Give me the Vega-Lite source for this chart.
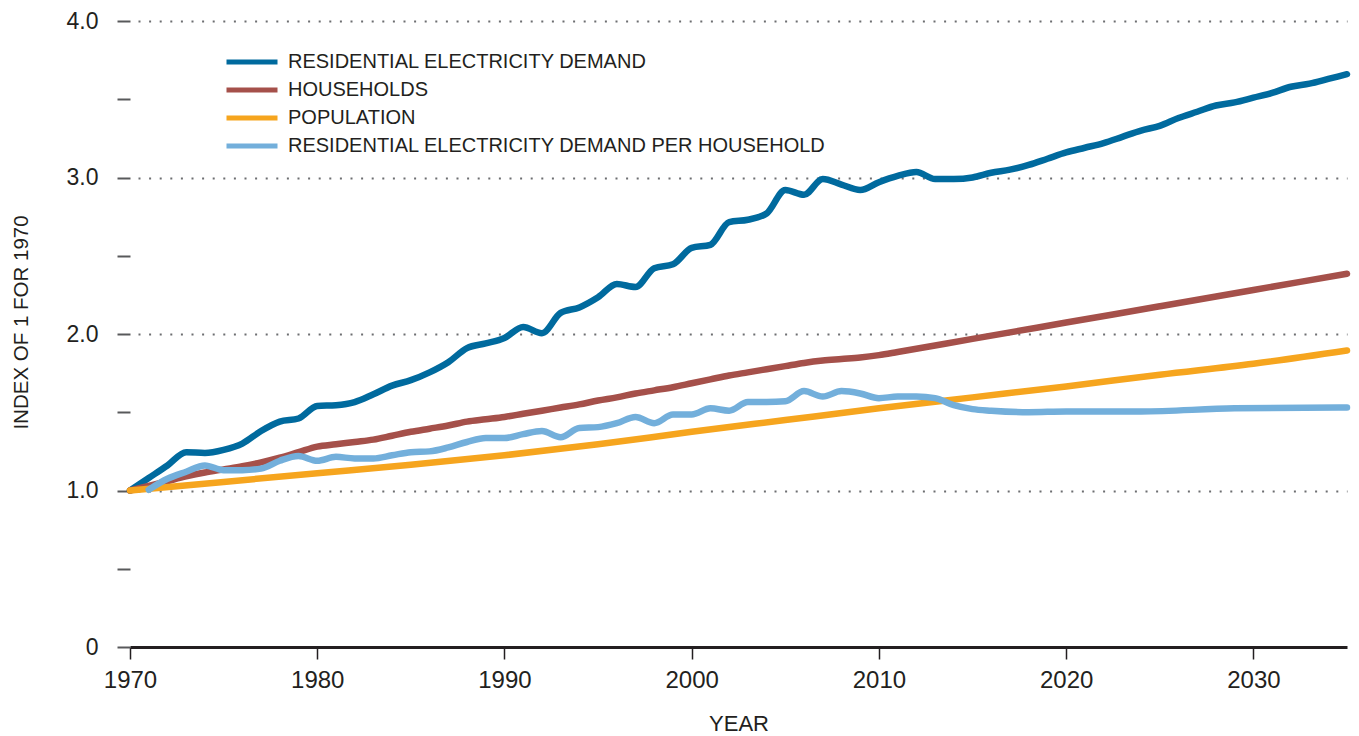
{
  "$schema": "https://vega.github.io/schema/vega-lite/v6.json",
  "width": 1217,
  "height": 626,
  "autosize": {"type": "none"},
  "padding": {"left": 130, "top": 21, "right": 12, "bottom": 89},
  "background": "white",
  "config": {"view": {"stroke": null}, "font": "Liberation Sans"},
  "datasets": {
    "d": [
      {"series": "RESIDENTIAL ELECTRICITY DEMAND", "year": 1970, "value": 1.0},
      {"series": "RESIDENTIAL ELECTRICITY DEMAND", "year": 1971, "value": 1.08},
      {"series": "RESIDENTIAL ELECTRICITY DEMAND", "year": 1972, "value": 1.16},
      {"series": "RESIDENTIAL ELECTRICITY DEMAND", "year": 1973, "value": 1.245},
      {"series": "RESIDENTIAL ELECTRICITY DEMAND", "year": 1974, "value": 1.24},
      {"series": "RESIDENTIAL ELECTRICITY DEMAND", "year": 1975, "value": 1.26},
      {"series": "RESIDENTIAL ELECTRICITY DEMAND", "year": 1976, "value": 1.3},
      {"series": "RESIDENTIAL ELECTRICITY DEMAND", "year": 1977, "value": 1.38},
      {"series": "RESIDENTIAL ELECTRICITY DEMAND", "year": 1978, "value": 1.44},
      {"series": "RESIDENTIAL ELECTRICITY DEMAND", "year": 1979, "value": 1.46},
      {"series": "RESIDENTIAL ELECTRICITY DEMAND", "year": 1980, "value": 1.54},
      {"series": "RESIDENTIAL ELECTRICITY DEMAND", "year": 1981, "value": 1.545},
      {"series": "RESIDENTIAL ELECTRICITY DEMAND", "year": 1982, "value": 1.565},
      {"series": "RESIDENTIAL ELECTRICITY DEMAND", "year": 1983, "value": 1.615},
      {"series": "RESIDENTIAL ELECTRICITY DEMAND", "year": 1984, "value": 1.67},
      {"series": "RESIDENTIAL ELECTRICITY DEMAND", "year": 1985, "value": 1.705},
      {"series": "RESIDENTIAL ELECTRICITY DEMAND", "year": 1986, "value": 1.755},
      {"series": "RESIDENTIAL ELECTRICITY DEMAND", "year": 1987, "value": 1.82},
      {"series": "RESIDENTIAL ELECTRICITY DEMAND", "year": 1988, "value": 1.91},
      {"series": "RESIDENTIAL ELECTRICITY DEMAND", "year": 1989, "value": 1.94},
      {"series": "RESIDENTIAL ELECTRICITY DEMAND", "year": 1990, "value": 1.975},
      {"series": "RESIDENTIAL ELECTRICITY DEMAND", "year": 1991, "value": 2.045},
      {"series": "RESIDENTIAL ELECTRICITY DEMAND", "year": 1992, "value": 2.005},
      {"series": "RESIDENTIAL ELECTRICITY DEMAND", "year": 1993, "value": 2.135},
      {"series": "RESIDENTIAL ELECTRICITY DEMAND", "year": 1994, "value": 2.17},
      {"series": "RESIDENTIAL ELECTRICITY DEMAND", "year": 1995, "value": 2.235},
      {"series": "RESIDENTIAL ELECTRICITY DEMAND", "year": 1996, "value": 2.32},
      {"series": "RESIDENTIAL ELECTRICITY DEMAND", "year": 1997, "value": 2.3},
      {"series": "RESIDENTIAL ELECTRICITY DEMAND", "year": 1998, "value": 2.42},
      {"series": "RESIDENTIAL ELECTRICITY DEMAND", "year": 1999, "value": 2.445},
      {"series": "RESIDENTIAL ELECTRICITY DEMAND", "year": 2000, "value": 2.55},
      {"series": "RESIDENTIAL ELECTRICITY DEMAND", "year": 2001, "value": 2.57},
      {"series": "RESIDENTIAL ELECTRICITY DEMAND", "year": 2002, "value": 2.715},
      {"series": "RESIDENTIAL ELECTRICITY DEMAND", "year": 2003, "value": 2.73},
      {"series": "RESIDENTIAL ELECTRICITY DEMAND", "year": 2004, "value": 2.77},
      {"series": "RESIDENTIAL ELECTRICITY DEMAND", "year": 2005, "value": 2.92},
      {"series": "RESIDENTIAL ELECTRICITY DEMAND", "year": 2006, "value": 2.89},
      {"series": "RESIDENTIAL ELECTRICITY DEMAND", "year": 2007, "value": 2.99},
      {"series": "RESIDENTIAL ELECTRICITY DEMAND", "year": 2008, "value": 2.955},
      {"series": "RESIDENTIAL ELECTRICITY DEMAND", "year": 2009, "value": 2.92},
      {"series": "RESIDENTIAL ELECTRICITY DEMAND", "year": 2010, "value": 2.97},
      {"series": "RESIDENTIAL ELECTRICITY DEMAND", "year": 2011, "value": 3.01},
      {"series": "RESIDENTIAL ELECTRICITY DEMAND", "year": 2012, "value": 3.035},
      {"series": "RESIDENTIAL ELECTRICITY DEMAND", "year": 2013, "value": 2.99},
      {"series": "RESIDENTIAL ELECTRICITY DEMAND", "year": 2014, "value": 2.99},
      {"series": "RESIDENTIAL ELECTRICITY DEMAND", "year": 2015, "value": 3.0},
      {"series": "RESIDENTIAL ELECTRICITY DEMAND", "year": 2016, "value": 3.03},
      {"series": "RESIDENTIAL ELECTRICITY DEMAND", "year": 2017, "value": 3.05},
      {"series": "RESIDENTIAL ELECTRICITY DEMAND", "year": 2018, "value": 3.08},
      {"series": "RESIDENTIAL ELECTRICITY DEMAND", "year": 2019, "value": 3.12},
      {"series": "RESIDENTIAL ELECTRICITY DEMAND", "year": 2020, "value": 3.16},
      {"series": "RESIDENTIAL ELECTRICITY DEMAND", "year": 2021, "value": 3.19},
      {"series": "RESIDENTIAL ELECTRICITY DEMAND", "year": 2022, "value": 3.22},
      {"series": "RESIDENTIAL ELECTRICITY DEMAND", "year": 2023, "value": 3.26},
      {"series": "RESIDENTIAL ELECTRICITY DEMAND", "year": 2024, "value": 3.3},
      {"series": "RESIDENTIAL ELECTRICITY DEMAND", "year": 2025, "value": 3.33},
      {"series": "RESIDENTIAL ELECTRICITY DEMAND", "year": 2026, "value": 3.38},
      {"series": "RESIDENTIAL ELECTRICITY DEMAND", "year": 2027, "value": 3.42},
      {"series": "RESIDENTIAL ELECTRICITY DEMAND", "year": 2028, "value": 3.46},
      {"series": "RESIDENTIAL ELECTRICITY DEMAND", "year": 2029, "value": 3.48},
      {"series": "RESIDENTIAL ELECTRICITY DEMAND", "year": 2030, "value": 3.51},
      {"series": "RESIDENTIAL ELECTRICITY DEMAND", "year": 2031, "value": 3.54},
      {"series": "RESIDENTIAL ELECTRICITY DEMAND", "year": 2032, "value": 3.58},
      {"series": "RESIDENTIAL ELECTRICITY DEMAND", "year": 2033, "value": 3.6},
      {"series": "RESIDENTIAL ELECTRICITY DEMAND", "year": 2034, "value": 3.63},
      {"series": "RESIDENTIAL ELECTRICITY DEMAND", "year": 2035, "value": 3.66},

      {"series": "HOUSEHOLDS", "year": 1970, "value": 1.0},
      {"series": "HOUSEHOLDS", "year": 1971, "value": 1.03},
      {"series": "HOUSEHOLDS", "year": 1972, "value": 1.06},
      {"series": "HOUSEHOLDS", "year": 1973, "value": 1.09},
      {"series": "HOUSEHOLDS", "year": 1974, "value": 1.115},
      {"series": "HOUSEHOLDS", "year": 1975, "value": 1.135},
      {"series": "HOUSEHOLDS", "year": 1976, "value": 1.155},
      {"series": "HOUSEHOLDS", "year": 1977, "value": 1.18},
      {"series": "HOUSEHOLDS", "year": 1978, "value": 1.21},
      {"series": "HOUSEHOLDS", "year": 1979, "value": 1.245},
      {"series": "HOUSEHOLDS", "year": 1980, "value": 1.28},
      {"series": "HOUSEHOLDS", "year": 1981, "value": 1.295},
      {"series": "HOUSEHOLDS", "year": 1982, "value": 1.31},
      {"series": "HOUSEHOLDS", "year": 1983, "value": 1.325},
      {"series": "HOUSEHOLDS", "year": 1984, "value": 1.35},
      {"series": "HOUSEHOLDS", "year": 1985, "value": 1.375},
      {"series": "HOUSEHOLDS", "year": 1986, "value": 1.395},
      {"series": "HOUSEHOLDS", "year": 1987, "value": 1.415},
      {"series": "HOUSEHOLDS", "year": 1988, "value": 1.44},
      {"series": "HOUSEHOLDS", "year": 1989, "value": 1.455},
      {"series": "HOUSEHOLDS", "year": 1990, "value": 1.47},
      {"series": "HOUSEHOLDS", "year": 1991, "value": 1.49},
      {"series": "HOUSEHOLDS", "year": 1992, "value": 1.51},
      {"series": "HOUSEHOLDS", "year": 1993, "value": 1.53},
      {"series": "HOUSEHOLDS", "year": 1994, "value": 1.55},
      {"series": "HOUSEHOLDS", "year": 1995, "value": 1.575},
      {"series": "HOUSEHOLDS", "year": 1996, "value": 1.595},
      {"series": "HOUSEHOLDS", "year": 1997, "value": 1.62},
      {"series": "HOUSEHOLDS", "year": 1998, "value": 1.64},
      {"series": "HOUSEHOLDS", "year": 1999, "value": 1.66},
      {"series": "HOUSEHOLDS", "year": 2000, "value": 1.685},
      {"series": "HOUSEHOLDS", "year": 2001, "value": 1.71},
      {"series": "HOUSEHOLDS", "year": 2002, "value": 1.735},
      {"series": "HOUSEHOLDS", "year": 2003, "value": 1.755},
      {"series": "HOUSEHOLDS", "year": 2004, "value": 1.775},
      {"series": "HOUSEHOLDS", "year": 2005, "value": 1.795},
      {"series": "HOUSEHOLDS", "year": 2006, "value": 1.815},
      {"series": "HOUSEHOLDS", "year": 2007, "value": 1.83},
      {"series": "HOUSEHOLDS", "year": 2008, "value": 1.84},
      {"series": "HOUSEHOLDS", "year": 2009, "value": 1.85},
      {"series": "HOUSEHOLDS", "year": 2010, "value": 1.865},
      {"series": "HOUSEHOLDS", "year": 2011, "value": 1.885},
      {"series": "HOUSEHOLDS", "year": 2015, "value": 1.969},
      {"series": "HOUSEHOLDS", "year": 2020, "value": 2.073},
      {"series": "HOUSEHOLDS", "year": 2025, "value": 2.177},
      {"series": "HOUSEHOLDS", "year": 2030, "value": 2.281},
      {"series": "HOUSEHOLDS", "year": 2035, "value": 2.385},

      {"series": "POPULATION", "year": 1970, "value": 1.0},
      {"series": "POPULATION", "year": 1975, "value": 1.055},
      {"series": "POPULATION", "year": 1980, "value": 1.11},
      {"series": "POPULATION", "year": 1985, "value": 1.165},
      {"series": "POPULATION", "year": 1990, "value": 1.225},
      {"series": "POPULATION", "year": 1995, "value": 1.295},
      {"series": "POPULATION", "year": 2000, "value": 1.375},
      {"series": "POPULATION", "year": 2005, "value": 1.45},
      {"series": "POPULATION", "year": 2010, "value": 1.525},
      {"series": "POPULATION", "year": 2015, "value": 1.595},
      {"series": "POPULATION", "year": 2020, "value": 1.665},
      {"series": "POPULATION", "year": 2025, "value": 1.74},
      {"series": "POPULATION", "year": 2030, "value": 1.81},
      {"series": "POPULATION", "year": 2035, "value": 1.895},

      {"series": "RESIDENTIAL ELECTRICITY DEMAND PER HOUSEHOLD", "year": 1971, "value": 1.005},
      {"series": "RESIDENTIAL ELECTRICITY DEMAND PER HOUSEHOLD", "year": 1972, "value": 1.075},
      {"series": "RESIDENTIAL ELECTRICITY DEMAND PER HOUSEHOLD", "year": 1973, "value": 1.12},
      {"series": "RESIDENTIAL ELECTRICITY DEMAND PER HOUSEHOLD", "year": 1974, "value": 1.16},
      {"series": "RESIDENTIAL ELECTRICITY DEMAND PER HOUSEHOLD", "year": 1975, "value": 1.13},
      {"series": "RESIDENTIAL ELECTRICITY DEMAND PER HOUSEHOLD", "year": 1976, "value": 1.13},
      {"series": "RESIDENTIAL ELECTRICITY DEMAND PER HOUSEHOLD", "year": 1977, "value": 1.14},
      {"series": "RESIDENTIAL ELECTRICITY DEMAND PER HOUSEHOLD", "year": 1978, "value": 1.19},
      {"series": "RESIDENTIAL ELECTRICITY DEMAND PER HOUSEHOLD", "year": 1979, "value": 1.22},
      {"series": "RESIDENTIAL ELECTRICITY DEMAND PER HOUSEHOLD", "year": 1980, "value": 1.19},
      {"series": "RESIDENTIAL ELECTRICITY DEMAND PER HOUSEHOLD", "year": 1981, "value": 1.215},
      {"series": "RESIDENTIAL ELECTRICITY DEMAND PER HOUSEHOLD", "year": 1982, "value": 1.205},
      {"series": "RESIDENTIAL ELECTRICITY DEMAND PER HOUSEHOLD", "year": 1983, "value": 1.205},
      {"series": "RESIDENTIAL ELECTRICITY DEMAND PER HOUSEHOLD", "year": 1984, "value": 1.225},
      {"series": "RESIDENTIAL ELECTRICITY DEMAND PER HOUSEHOLD", "year": 1985, "value": 1.245},
      {"series": "RESIDENTIAL ELECTRICITY DEMAND PER HOUSEHOLD", "year": 1986, "value": 1.25},
      {"series": "RESIDENTIAL ELECTRICITY DEMAND PER HOUSEHOLD", "year": 1987, "value": 1.275},
      {"series": "RESIDENTIAL ELECTRICITY DEMAND PER HOUSEHOLD", "year": 1988, "value": 1.31},
      {"series": "RESIDENTIAL ELECTRICITY DEMAND PER HOUSEHOLD", "year": 1989, "value": 1.335},
      {"series": "RESIDENTIAL ELECTRICITY DEMAND PER HOUSEHOLD", "year": 1990, "value": 1.335},
      {"series": "RESIDENTIAL ELECTRICITY DEMAND PER HOUSEHOLD", "year": 1991, "value": 1.36},
      {"series": "RESIDENTIAL ELECTRICITY DEMAND PER HOUSEHOLD", "year": 1992, "value": 1.38},
      {"series": "RESIDENTIAL ELECTRICITY DEMAND PER HOUSEHOLD", "year": 1993, "value": 1.34},
      {"series": "RESIDENTIAL ELECTRICITY DEMAND PER HOUSEHOLD", "year": 1994, "value": 1.4},
      {"series": "RESIDENTIAL ELECTRICITY DEMAND PER HOUSEHOLD", "year": 1995, "value": 1.405},
      {"series": "RESIDENTIAL ELECTRICITY DEMAND PER HOUSEHOLD", "year": 1996, "value": 1.43},
      {"series": "RESIDENTIAL ELECTRICITY DEMAND PER HOUSEHOLD", "year": 1997, "value": 1.47},
      {"series": "RESIDENTIAL ELECTRICITY DEMAND PER HOUSEHOLD", "year": 1998, "value": 1.43},
      {"series": "RESIDENTIAL ELECTRICITY DEMAND PER HOUSEHOLD", "year": 1999, "value": 1.485},
      {"series": "RESIDENTIAL ELECTRICITY DEMAND PER HOUSEHOLD", "year": 2000, "value": 1.485},
      {"series": "RESIDENTIAL ELECTRICITY DEMAND PER HOUSEHOLD", "year": 2001, "value": 1.525},
      {"series": "RESIDENTIAL ELECTRICITY DEMAND PER HOUSEHOLD", "year": 2002, "value": 1.51},
      {"series": "RESIDENTIAL ELECTRICITY DEMAND PER HOUSEHOLD", "year": 2003, "value": 1.565},
      {"series": "RESIDENTIAL ELECTRICITY DEMAND PER HOUSEHOLD", "year": 2004, "value": 1.565},
      {"series": "RESIDENTIAL ELECTRICITY DEMAND PER HOUSEHOLD", "year": 2005, "value": 1.57},
      {"series": "RESIDENTIAL ELECTRICITY DEMAND PER HOUSEHOLD", "year": 2006, "value": 1.635},
      {"series": "RESIDENTIAL ELECTRICITY DEMAND PER HOUSEHOLD", "year": 2007, "value": 1.6},
      {"series": "RESIDENTIAL ELECTRICITY DEMAND PER HOUSEHOLD", "year": 2008, "value": 1.635},
      {"series": "RESIDENTIAL ELECTRICITY DEMAND PER HOUSEHOLD", "year": 2009, "value": 1.62},
      {"series": "RESIDENTIAL ELECTRICITY DEMAND PER HOUSEHOLD", "year": 2010, "value": 1.59},
      {"series": "RESIDENTIAL ELECTRICITY DEMAND PER HOUSEHOLD", "year": 2011, "value": 1.6},
      {"series": "RESIDENTIAL ELECTRICITY DEMAND PER HOUSEHOLD", "year": 2012, "value": 1.6},
      {"series": "RESIDENTIAL ELECTRICITY DEMAND PER HOUSEHOLD", "year": 2013, "value": 1.59},
      {"series": "RESIDENTIAL ELECTRICITY DEMAND PER HOUSEHOLD", "year": 2014, "value": 1.545},
      {"series": "RESIDENTIAL ELECTRICITY DEMAND PER HOUSEHOLD", "year": 2015, "value": 1.52},
      {"series": "RESIDENTIAL ELECTRICITY DEMAND PER HOUSEHOLD", "year": 2016, "value": 1.51},
      {"series": "RESIDENTIAL ELECTRICITY DEMAND PER HOUSEHOLD", "year": 2018, "value": 1.5},
      {"series": "RESIDENTIAL ELECTRICITY DEMAND PER HOUSEHOLD", "year": 2020, "value": 1.505},
      {"series": "RESIDENTIAL ELECTRICITY DEMAND PER HOUSEHOLD", "year": 2024, "value": 1.505},
      {"series": "RESIDENTIAL ELECTRICITY DEMAND PER HOUSEHOLD", "year": 2029, "value": 1.525},
      {"series": "RESIDENTIAL ELECTRICITY DEMAND PER HOUSEHOLD", "year": 2035, "value": 1.53}
    ]
  },
  "data": {"name": "d"},
  "mark": {"type": "line", "strokeWidth": 6.5, "strokeCap": "round", "strokeJoin": "round", "interpolate": "monotone"},
  "encoding": {
    "x": {
      "field": "year", "type": "quantitative",
      "scale": {"domain": [1970, 2035], "nice": false, "zero": false},
      "axis": {
        "title": "YEAR",
        "values": [1970, 1980, 1990, 2000, 2010, 2020, 2030],
        "format": "d",
        "grid": false,
        "domainColor": "#231f20", "domainWidth": 3,
        "tickColor": "#231f20", "tickWidth": 1.5, "tickSize": 12,
        "labelFont": "Liberation Sans", "labelFontSize": 24, "labelColor": "#231f20", "labelPadding": 9,
        "labelFlush": false,
        "titleFont": "Liberation Sans", "titleFontSize": 22, "titleFontWeight": "normal", "titleColor": "#231f20",
        "titleBaseline": "alphabetic", "titleY": 83
      }
    },
    "y": {
      "field": "value", "type": "quantitative",
      "scale": {"domain": [0, 4], "nice": false},
      "axis": {
        "title": "INDEX OF 1 FOR 1970",
        "values": [0, 0.5, 1, 1.5, 2, 2.5, 3, 3.5, 4],
        "labelExpr": "datum.value == 0 ? '0' : (datum.value % 1 == 0 ? format(datum.value, '.1f') : '')",
        "domain": false,
        "tickColor": "#58595b", "tickWidth": 2, "tickSize": 13,
        "grid": true,
        "gridColor": "#6d6e71", "gridWidth": 2, "gridDash": [2, 8.6], "gridDashOffset": 2.6,
        "gridOpacity": {"condition": {"test": "datum.value % 1 != 0 || datum.value == 0", "value": 0}, "value": 1},
        "labelFont": "Liberation Sans", "labelFontSize": 23, "labelColor": "#231f20", "labelPadding": 19,
        "titleFont": "Liberation Sans", "titleFontSize": 20.5, "titleFontWeight": "normal", "titleColor": "#231f20",
        "titleBaseline": "alphabetic", "titleX": -103, "titleY": 301, "titleAngle": 270, "titleAlign": "center"
      }
    },
    "color": {
      "field": "series", "type": "nominal",
      "scale": {
        "domain": ["RESIDENTIAL ELECTRICITY DEMAND", "HOUSEHOLDS", "POPULATION", "RESIDENTIAL ELECTRICITY DEMAND PER HOUSEHOLD"],
        "range": ["#006a9e", "#a5504a", "#f6a51e", "#73afdb"]
      },
      "legend": {
        "orient": "none", "legendX": 94, "legendY": 27, "title": null,
        "symbolType": "stroke", "symbolSize": 2601, "symbolStrokeWidth": 5,
        "labelFont": "Liberation Sans", "labelFontSize": 20, "labelColor": "#231f20",
        "labelOffset": 8, "clipHeight": 28, "rowPadding": 0, "padding": 0, "labelLimit": 700
      }
    }
  }
}
